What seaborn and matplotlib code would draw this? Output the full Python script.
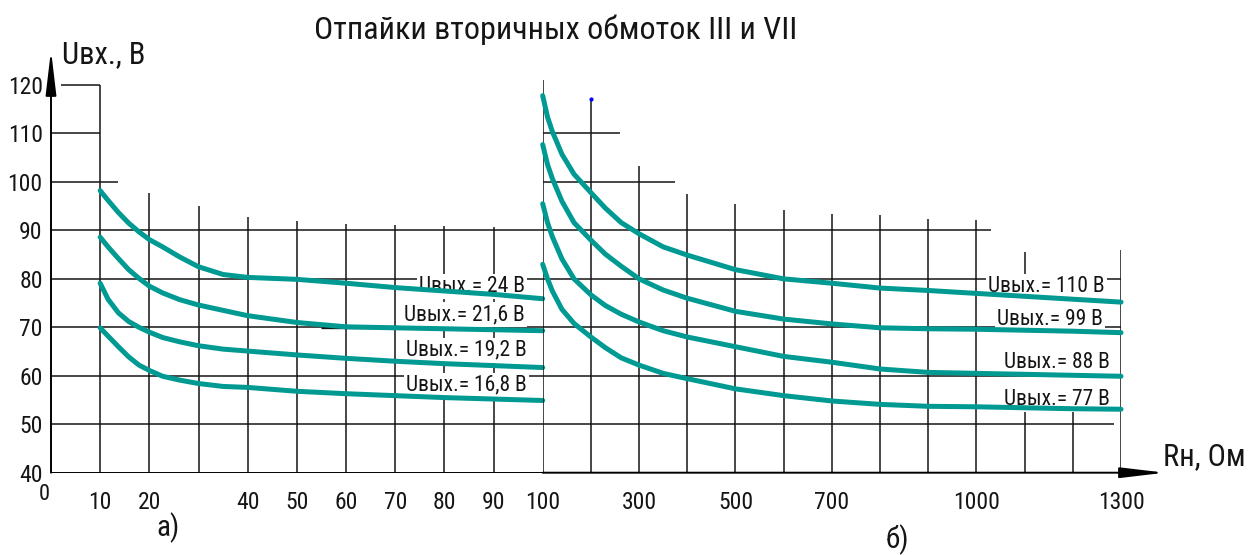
import matplotlib
matplotlib.use('Agg')
import matplotlib.pyplot as plt
from matplotlib import font_manager
import seaborn as sns
import pandas as pd

# panel a): R = 10..100 Ohm
r_a = [10, 11.6, 13.7, 15.8, 17.9, 20, 22.7, 26.2, 30, 35, 40, 50, 60, 70, 80, 90, 100]
u_24 = [98.2, 96.2, 93.7, 91.5, 89.7, 88.1, 86.6, 84.5, 82.5, 80.9, 80.3,
        79.9, 79.1, 78.2, 77.5, 76.8, 75.9]
u_216 = [88.6, 86.6, 84.2, 81.9, 80.1, 78.5, 77.1, 75.7, 74.6, 73.5, 72.4,
         71.0, 70.1, 69.9, 69.7, 69.5, 69.3]
u_192 = [79.1, 75.8, 73.0, 71.2, 70.0, 69.0, 67.9, 67.0, 66.2, 65.5, 65.1,
         64.3, 63.6, 63.0, 62.5, 62.1, 61.7]
u_168 = [69.9, 68.2, 66.0, 63.9, 62.2, 61.1, 59.9, 59.1, 58.4, 57.8, 57.6,
         56.8, 56.3, 55.9, 55.5, 55.2, 54.9]
labels_a = ['24 В', '21,6 В', '19,2 В', '16,8 В']

# panel б): R = 100..1300 Ohm
r_b = [100, 110, 120, 140, 165, 200, 230, 263, 300, 350, 400, 500, 600, 700,
       800, 900, 1000, 1100, 1200, 1300]
u_110 = [117.8, 113.4, 110.4, 105.7, 101.6, 97.8, 94.6, 91.6, 89.3, 86.6, 84.9,
         81.9, 80.0, 79.1, 78.1, 77.6, 77.0, 76.4, 75.8, 75.2]
u_99 = [107.7, 103.6, 100.7, 96.0, 91.6, 88.0, 85.1, 82.6, 80.0, 77.7, 76.0,
        73.3, 71.7, 70.7, 69.9, 69.7, 69.6, 69.4, 69.2, 68.9]
u_88 = [95.5, 91.6, 88.7, 84.1, 80.0, 76.7, 74.5, 72.7, 71.1, 69.3, 68.0,
        66.0, 64.0, 62.8, 61.4, 60.7, 60.5, 60.3, 60.1, 59.9]
u_77 = [83.0, 80.0, 77.5, 73.7, 70.8, 68.0, 65.8, 63.7, 62.2, 60.5, 59.4,
        57.3, 55.9, 54.8, 54.1, 53.7, 53.6, 53.4, 53.2, 53.1]
labels_b = ['110 В', '99 В', '88 В', '77 В']

ticks_a = [10, 20, 40, 50, 60, 70, 80, 90, 100]
ticks_b = [300, 500, 700, 1000, 1300]
ticks_u = [40, 50, 60, 70, 80, 90, 100, 110, 120]

# irregular drawing grid (hand drawn sheet)
va_r = [10, 20, 30, 40, 50, 60, 70, 80, 90]
va_top = [120, 97.7, 95.1, 92.8, 92.0, 91.4, 91.2, 91.0, 90.8]
ha_u = [120, 110, 100, 90, 80, 70, 60, 50]
ha_from = [2, 0, 0, 0, 0, 0, 0, 0]
ha_to = [10, 10, 13.7, 100, 100, 100, 100, 100]
vb_r = [100, 200, 300, 400, 500, 600, 700, 800, 900, 1000, 1300]
vb_top = [121.0, 117.0, 103.3, 97.5, 95.5, 94.2, 93.4, 93.2, 92.4, 92.2, 85.9]
vb_short_r = [1100, 1100, 1200]
vb_short_lo = [80.5, 40, 40]
vb_short_hi = [85.5, 52.9, 52.9]
hb_u = [110, 100, 90, 80, 70, 60, 50]
hb_to = [261, 374, 1030, 1300, 1300, 1300, 1286]

TEAL = '#009a93'
INK = '#151515'


def pick_font():
    names = {f.name: f for f in font_manager.fontManager.ttflist}
    for n in ['Liberation Sans Narrow', 'Roboto Condensed', 'Open Sans Condensed',
              'DejaVu Sans Condensed', 'Noto Sans Condensed']:
        if n in names:
            return n, 'normal', 1.0
    for f in font_manager.fontManager.ttflist:
        if f.name in ('Noto Sans', 'DejaVu Sans', 'Open Sans', 'Roboto') and \
                str(f.stretch) in ('condensed', 'semi-condensed', 'extra-condensed'):
            return f.name, f.stretch, 0.95
    return 'DejaVu Sans', 'normal', 0.78


sns.set_theme(style='white')
fname, fstretch, fs = pick_font()
plt.rcParams['font.family'] = [fname, 'DejaVu Sans']
plt.rcParams['font.stretch'] = fstretch

W, H = 1254, 555
fig = plt.figure(figsize=(W / 100, H / 100), dpi=100)
x0, xm, x1, y0 = 51, 542.7, 1121, 472.7
pv = 4.846
ax_a = fig.add_axes([x0 / W, 1 - y0 / H, (xm - x0) / W, 85 * pv / H])
ax_b = fig.add_axes([xm / W, 1 - y0 / H, (x1 - xm) / W, 85 * pv / H])
ax_a.set_xlim(0, 100)
ax_b.set_xlim(100, 1300)
for ax in (ax_a, ax_b):
    ax.set_ylim(40, 125)
    ax.patch.set_alpha(0)
    for s in ax.spines.values():
        s.set_visible(False)
    ax.tick_params(length=0, colors=INK, labelsize=17 * fs)

# grid
ax_a.vlines(va_r, 40, va_top, color=INK, lw=1.1, zorder=1)
ax_a.hlines(ha_u, ha_from, ha_to, color=INK, lw=1.1, zorder=1)
ax_a.hlines(70, 55, 70.5, color=INK, lw=2.4, zorder=1)
ax_b.vlines(vb_r, 40, vb_top, color=INK, lw=1.1, zorder=1)
ax_b.vlines(vb_short_r, vb_short_lo, vb_short_hi, color=INK, lw=1.1, zorder=1)
ax_b.hlines(hb_u, 100, hb_to, color=INK, lw=1.1, zorder=1)
ax_b.plot([200], [117.2], marker='o', ms=2, color='blue', zorder=1)

# axes with arrows
arrow = dict(arrowstyle='-|>,head_length=1.35,head_width=0.16', color='black',
             lw=1.4, shrinkA=0, shrinkB=0, mutation_scale=20)
ax_a.annotate('', xy=(0, 127.2), xytext=(0, 40), arrowprops=arrow, annotation_clip=False)
ax_a.hlines(40, 0, 100, color='black', lw=1.4, zorder=1)
ax_b.annotate('', xy=(1391, 40), xytext=(100, 40), arrowprops=arrow, annotation_clip=False)

# curves
df_a = pd.DataFrame({'R': r_a * 4, 'U': u_24 + u_216 + u_192 + u_168,
                     'curve': sum([[l] * len(r_a) for l in labels_a], [])})
df_b = pd.DataFrame({'R': r_b * 4, 'U': u_110 + u_99 + u_88 + u_77,
                     'curve': sum([[l] * len(r_b) for l in labels_b], [])})
for df, ax in ((df_a, ax_a), (df_b, ax_b)):
    sns.lineplot(data=df, x='R', y='U', hue='curve', palette=[TEAL] * 4, lw=3.6,
                 legend=False, sort=False, estimator=None, ax=ax, zorder=3,
                 solid_capstyle='round', solid_joinstyle='round')
    for ln in ax.lines:
        ln.set_clip_on(False)
    ax.set_xlabel('')
    ax.set_ylabel('')

ax_a.set_xticks(ticks_a, [str(t) for t in ticks_a])
ax_a.set_yticks(ticks_u, [str(t) for t in ticks_u])
ax_b.set_xticks(ticks_b, [str(t) for t in ticks_b])
ax_b.set_yticks([])
ax_a.tick_params(axis='x', pad=13)
ax_b.tick_params(axis='x', pad=13)
ax_a.tick_params(axis='y', pad=6)

# curve labels
box = dict(facecolor='white', edgecolor='none', pad=1.5)
lab_pos_a = [(96.4, 77.3), (96.4, 71.5), (96.8, 64.1), (96.8, 56.9)]
lab_pos_b = [(1267, 77.3), (1263, 70.5), (1277, 61.6), (1277, 53.9)]
for (r, u), l in zip(lab_pos_a, labels_a):
    ax_a.text(r, u, 'Uвых.= ' + l, ha='right', va='baseline', fontsize=15.5 * fs,
              color=INK, bbox=box, zorder=2)
for (r, u), l in zip(lab_pos_b, labels_b):
    ax_b.text(r, u, 'Uвых.= ' + l, ha='right', va='baseline', fontsize=15.5 * fs,
              color=INK, bbox=box, zorder=2)

fig.text(556 / W, 1 - 30 / H, 'Отпайки вторичных обмоток III и VII', ha='center',
         va='center', fontsize=23 * fs, color=INK)
fig.text(62 / W, 1 - 63 / H, 'Uвх., В', ha='left', va='baseline', fontsize=22 * fs, color=INK)
fig.text(1163 / W, 1 - 465 / H, 'Rн, Ом', ha='left', va='baseline', fontsize=22 * fs, color=INK)
fig.text(44 / W, 1 - 495 / H, '0', ha='center', va='center', fontsize=16 * fs, color=INK)
fig.text(168 / W, 1 - 528 / H, 'а)', ha='center', va='center', fontsize=21 * fs, color=INK)
fig.text(897 / W, 1 - 540 / H, 'б)', ha='center', va='center', fontsize=21 * fs, color=INK)

fig.savefig('out.png', dpi=100, facecolor='white')
